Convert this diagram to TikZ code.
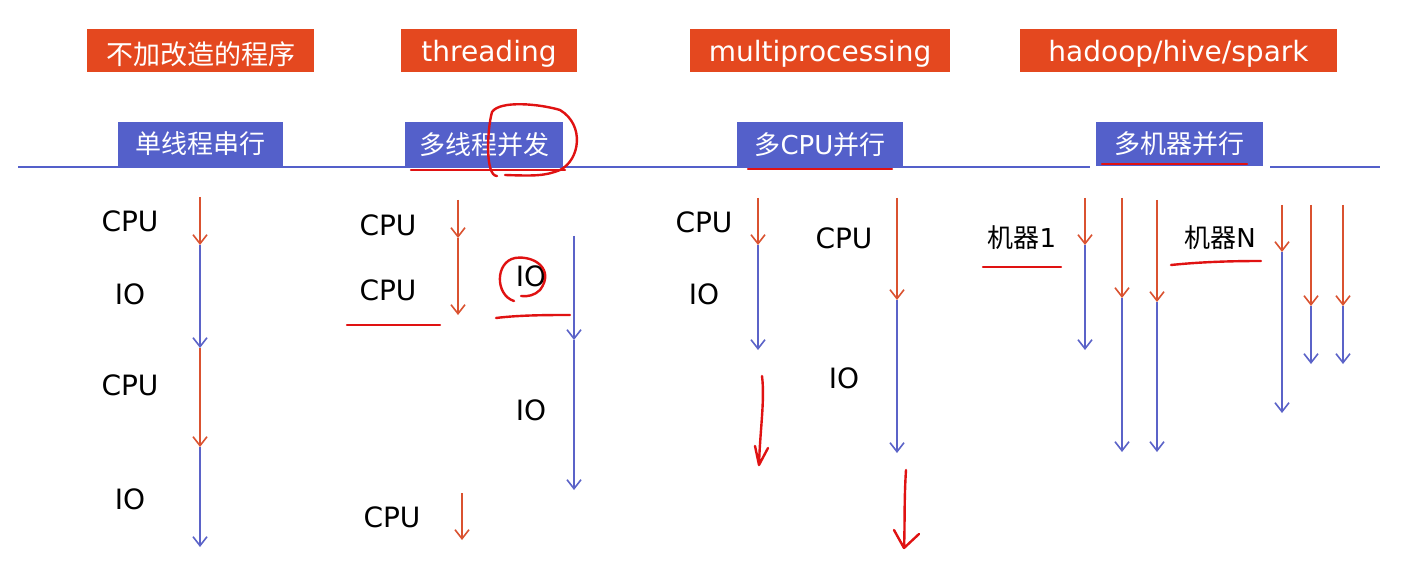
\documentclass[tikz,border=0pt]{standalone}
\usepackage{fontspec}
\setmainfont{DejaVu Sans}
\newfontfamily\cjk{Noto Sans CJK SC}
\usetikzlibrary{arrows.meta}
\definecolor{ob}{HTML}{E4481F}
\definecolor{bb}{HTML}{5460CA}
\definecolor{ra}{HTML}{DA5230}
\definecolor{ba}{HTML}{5B63C8}
\definecolor{pen}{HTML}{E01212}
\begin{document}
\begin{tikzpicture}[x=1pt,y=-1pt,
 obox/.style={fill=ob,inner sep=0,anchor=center,minimum height=43pt},
 otext/.style={text=white,font=\fontsize{28}{30}\selectfont,inner sep=0,anchor=center,yshift=-3pt},
 bbox/.style={fill=bb,text=white,font=\fontsize{26}{30}\selectfont,inner sep=0,anchor=center},
 lab/.style={font=\fontsize{28}{30}\selectfont,anchor=center},
 ca/.style={draw=ra,line width=1.6pt,-{Straight Barb[length=9pt,width=14pt]}},
 ia/.style={draw=ba,line width=1.6pt,-{Straight Barb[length=9pt,width=14pt]}},
 pen/.style={draw=pen,line width=2.4pt,line cap=round,line join=round}]
\useasboundingbox (0,0) rectangle (1417,572);
\fill[white] (0,0) rectangle (1417,572);
% headers
\node[obox,minimum width=227pt] (h1) at (200.5,51) {};
\node[otext,font=\cjk\fontsize{27}{30}\selectfont] (t1) at (h1.center) {不加改造的程序};
\node[obox,minimum width=176pt] (h2) at (489,51) {};
\node[otext] (t2) at (h2.center) {threading};
\node[obox,minimum width=260pt] (h3) at (820,51) {};
\node[otext] (t3) at (h3.center) {multiprocessing};
\node[obox,minimum width=317pt] (h4) at (1178.5,51) {};
\node[otext] (t4) at (h4.center) {hadoop/hive/spark};
\draw[bb,line width=1.5pt] (18,167) -- (1380,167);
\node[bbox,minimum width=165pt,minimum height=44pt] (b1) at (200.5,144) {\cjk 单线程串行};
\node[bbox,minimum width=158pt,minimum height=45pt] (b2) at (484,144.5) {\cjk 多线程并发};
\node[bbox,minimum width=166pt,minimum height=45pt] (b3) at (820,144.5) {{\cjk 多}CPU{\cjk 并行}};
\fill[white] (1090,160) rectangle (1270,172);
\node[bbox,minimum width=167pt,minimum height=44pt] (b4) at (1179.5,144) {\cjk 多机器并行};
% column 1
\coordinate (a0) at (200,197); \coordinate (a1) at (200,245);
\coordinate (a2) at (200,348); \coordinate (a3) at (200,447); \coordinate (a4) at (200,547);
\draw[ca] (a0)--(a1); \draw[ia] (a1)--(a2); \draw[ca] (a2)--(a3); \draw[ia] (a3)--(a4);
\node[lab] (l1) at (130,221) {CPU}; \node[lab] (l2) at (130,294) {IO};
\node[lab] (l3) at (130,385) {CPU}; \node[lab] (l4) at (130,499) {IO};
% column 2
\coordinate (c0) at (458,200); \coordinate (c1) at (458,238); \coordinate (c2) at (458,315);
\draw[ca] (c0)--(c1); \draw[ca] (c1)--(c2);
\coordinate (d0) at (574,236); \coordinate (d1) at (574,340); \coordinate (d2) at (574,490);
\draw[ia] (d0)--(d1); \draw[ia] (d1)--(d2);
\coordinate (e0) at (462,493); \coordinate (e1) at (462,540);
\draw[ca] (e0)--(e1);
\node[lab] (m1) at (388,225) {CPU}; \node[lab] (m2) at (388,290) {CPU};
\node[lab] (m3) at (531,276) {IO}; \node[lab] (m4) at (531,410) {IO};
\node[lab] (m5) at (392,517) {CPU};
% column 3
\coordinate (f0) at (758,198); \coordinate (f1) at (758,245); \coordinate (f2) at (758,350);
\draw[ca] (f0)--(f1); \draw[ia] (f1)--(f2);
\coordinate (g0) at (897,198); \coordinate (g1) at (897,300); \coordinate (g2) at (897,453);
\draw[ca] (g0)--(g1); \draw[ia] (g1)--(g2);
\node[lab] (n1) at (704,222) {CPU}; \node[lab] (n2) at (704,294) {IO};
\node[lab] (n3) at (844,238) {CPU}; \node[lab] (n4) at (844,378) {IO};
% column 4
\foreach \x/\a/\b/\c [count=\i] in {1085/198/245/350, 1122/198/298/452, 1157/200/302/452, 1282/205/252/413, 1311/205/306/364, 1343/205/306/364}{
 \coordinate (p\i a) at (\x,\a); \coordinate (p\i b) at (\x,\b); \coordinate (p\i c) at (\x,\c);
 \draw[ca] (p\i a)--(p\i b); \draw[ia] (p\i b)--(p\i c);}
\node[lab,font=\fontsize{26}{30}\selectfont] (k1) at (1022,238) {{\cjk 机器}1}; \node[lab,font=\fontsize{26}{30}\selectfont] (k2) at (1220,238) {{\cjk 机器}N};
% pen annotations
\draw[pen] (411,170) -- (565,170);
\draw[pen] (497,176) .. controls (485,176) and (487,130) .. (492,112) .. controls (500,100) and (540,104) .. (560,110) .. controls (585,125) and (580,160) .. (560,170) .. controls (545,176) and (535,176) .. (505,175);
\draw[pen] (748,169) -- (892,169);
\draw[pen] (1102,164) -- (1247,164);
\draw[pen] (347,325) -- (440,325);
\draw[pen] (496,318) .. controls (520,315) and (550,315) .. (570,315);
\draw[pen] (514,301) .. controls (495,295) and (495,262) .. (515,258) .. controls (535,255) and (555,270) .. (540,290) .. controls (535,295) and (528,297) .. (521,296);
\draw[pen] (762,376) .. controls (765,400) and (760,430) .. (759,465) -- (755,446) (759,465) -- (768,448);
\draw[pen] (906,470) .. controls (904,500) and (905,525) .. (904,548) -- (894,530) (904,548) -- (919,534);
\draw[pen] (983,267) -- (1061,267);
\draw[pen] (1171,265) .. controls (1200,262) and (1230,261) .. (1261,261);
\end{tikzpicture}
\end{document}
